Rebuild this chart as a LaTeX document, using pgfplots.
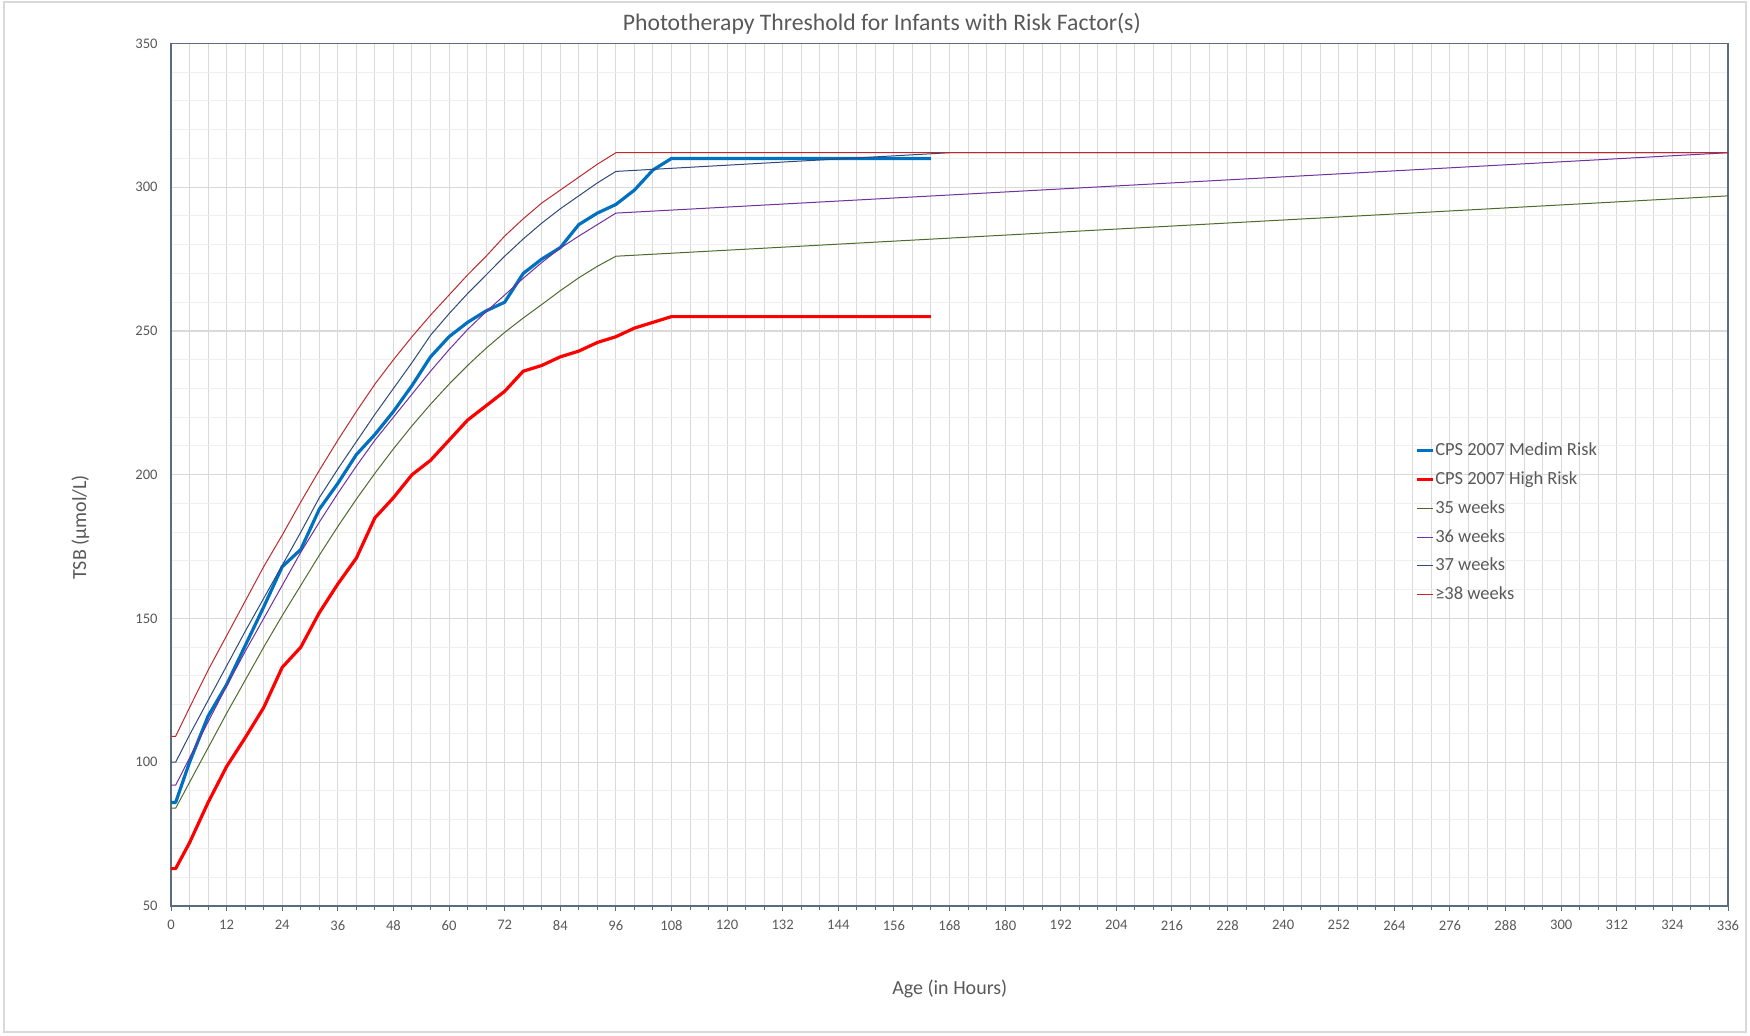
\documentclass[border=0pt]{standalone}
\usepackage{fontspec}
\setmainfont{Carlito}
\usepackage{pgfplots}
\pgfplotsset{compat=1.18}
\definecolor{medblue}{HTML}{0070C0}
\definecolor{highred}{HTML}{FF0000}
\definecolor{wkgreen}{HTML}{4E6B2E}
\definecolor{wkpurple}{HTML}{7030A0}
\definecolor{wknavy}{HTML}{2F4A7A}
\definecolor{wkred}{HTML}{C0282D}
\definecolor{txtgray}{HTML}{595959}
\definecolor{gridmaj}{HTML}{D9D9D9}
\definecolor{gridmin}{HTML}{EFEFEF}
\definecolor{axcol}{HTML}{5B6B80}
\begin{document}
\begin{tikzpicture}
\begin{axis}[
  at={(0,0)}, anchor=south west,
  scale only axis, width=778.5pt, height=431.25pt,
  xmin=0, xmax=336, ymin=50, ymax=350,
  xtick distance=12, minor x tick num=2,
  ytick distance=50, minor y tick num=4,
  grid=both,
  major x grid style={draw=gridmaj, line width=0.5pt},
  minor x grid style={draw=gridmaj, line width=0.5pt},
  major y grid style={draw=gridmaj, line width=0.6pt},
  minor y grid style={draw=gridmin, line width=0.5pt},
  axis line style={draw=axcol, line width=0.6pt},
  tick style={draw=axcol, line width=0.5pt},
  xtick pos=bottom, ytick pos=left,
  tick align=outside,
  major tick length=2.5pt, minor tick length=2pt,
  ytick style={draw=none},
  /pgf/number format/assume math mode=true,
  xticklabel style={font=\fontsize{7.3}{8}\selectfont, text=txtgray, anchor=north, inner sep=0pt, yshift=-4.5pt},
  yticklabel style={font=\fontsize{7.3}{8}\selectfont, text=txtgray, anchor=east, inner sep=0pt, xshift=-4pt},
  legend style={at={(0.799,0.540)}, anchor=north west, draw=none, fill=none, inner sep=0pt,
    row sep=4.4pt, font=\fontsize{9.25}{10}\selectfont, text=txtgray,
    nodes={inner sep=0.5pt, text height=7pt, text depth=2pt}},
  legend cell align=left,
  legend image code/.code={\draw[#1] (0pt,0pt) -- (7.8pt,0pt);},
]
\addplot[medblue, line width=1.6pt, line join=round] coordinates {
(0,86) (1,86) (4,100) (8,116) (12,127) (16,140.5) (20,154) (24,168) (28,174)
(32,188) (36,197) (40,207) (44,214) (48,222) (52,231) (56,241) (60,248)
(64,253) (68,257) (72,260) (76,270) (80,275) (84,279) (88,287) (92,291)
(96,294) (100,299) (104,306) (108,310) (164,310)};
\addlegendentry{CPS 2007 Medim Risk}
\addplot[highred, line width=1.6pt, line join=round] coordinates {
(0,63) (1,63) (4,72) (8,86) (12,98.5) (16,108.5) (20,119) (24,133) (28,140)
(32,152) (36,162) (40,171) (44,185) (48,192) (52,200) (56,205) (60,212)
(64,219) (68,224) (72,229) (76,236) (80,238) (84,241) (88,243) (92,246)
(96,248) (100,251) (104,253) (108,255) (164,255)};
\addlegendentry{CPS 2007 High Risk}
\addplot[wkgreen, line width=0.5pt] coordinates {
(0,84) (1,84) (4,93) (8,105) (12,117) (16,128.5) (20,140) (24,151) (28,161.5)
(32,172) (36,182) (40,191.5) (44,200.5) (48,209) (52,217) (56,224.5) (60,231.5)
(64,238) (68,244) (72,249.5) (76,254.5) (80,259.2) (84,264) (88,268.5)
(92,272.5) (96,276) (336,297)};
\addlegendentry{35 weeks}
\addplot[wkpurple, line width=0.5pt] coordinates {
(0,92) (1,92) (4,101.5) (8,114) (12,126.5) (16,138.5) (20,150) (24,161.5)
(28,173) (32,183.5) (36,193.5) (40,203) (44,212) (48,220) (52,228) (56,236)
(60,243.5) (64,250.5) (68,256.7) (72,262.5) (76,268.3) (80,273.8) (84,278.8)
(88,283) (92,287) (96,291) (336,312)};
\addlegendentry{36 weeks}
\addplot[wknavy, line width=0.5pt] coordinates {
(0,100) (1,100) (4,109.5) (8,121.5) (12,133.5) (16,145.5) (20,157) (24,168.5)
(28,180) (32,192) (36,202) (40,211.5) (44,221) (48,230) (52,239)
(56,248.5) (60,256) (64,263) (68,269.5) (72,276) (76,282) (80,287.5)
(84,292.5) (88,297) (92,301.5) (96,305.5) (168,312) (336,312)};
\addlegendentry{37 weeks}
\addplot[wkred, line width=0.5pt] coordinates {
(0,109) (1,109) (4,119) (8,132) (12,144) (16,156) (20,168) (24,179)
(28,190.5) (32,201.5) (36,212) (40,222) (44,231.5) (48,240) (52,248)
(56,255.5) (60,262.5) (64,269.5) (68,276) (72,283) (76,289) (80,294.5)
(84,299) (88,303.5) (92,308) (96,312) (336,312)};
\addlegendentry{≥38 weeks}
\end{axis}
\node[text=txtgray, font=\fontsize{11.85}{13}\selectfont] at (355.4pt,441.3pt) {Phototherapy Threshold for Infants with Risk Factor(s)};
\node[text=txtgray, font=\fontsize{10}{12}\selectfont] at (389.4pt,-41.6pt) {Age (in Hours)};
\node[text=txtgray, font=\fontsize{10}{12}\selectfont, rotate=90] at (-45.3pt,189.3pt) {TSB (μmol/L)};
\draw[gridmaj, line width=0.6pt] (-83.5pt,-63pt) rectangle (787.5pt,452pt);
\pgfresetboundingbox
\path[use as bounding box] (-85.5pt,-65pt) rectangle (789.5pt,453pt);
\end{tikzpicture}
\end{document}
